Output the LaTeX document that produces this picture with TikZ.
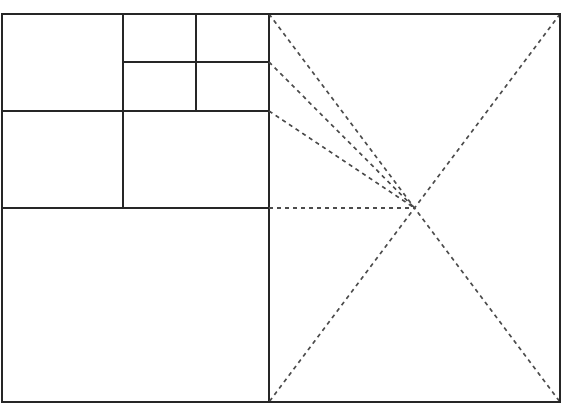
\documentclass[tikz,border=0pt]{standalone}
\begin{document}
\begin{tikzpicture}[x=1pt,y=-1pt,
  solidline/.style={line width=1.3pt,draw=black!85},
  dashline/.style={line width=1.6pt,draw=black!70,dash pattern=on 4pt off 4pt}]
\useasboundingbox (0,0) rectangle (564,404);
% named points
\coordinate (TL) at (2,14);
\coordinate (BR) at (560,402);
\coordinate (MT) at (269,14);
\coordinate (MB) at (269,402);
\coordinate (RT) at (560,14);
\coordinate (C) at (414.5,208);
\coordinate (M1) at (269,62);
\coordinate (M2) at (269,111);
\coordinate (M3) at (269,208);
% left subdivisions
\draw[solidline] (2,208) -- (269,208);
\draw[solidline] (2,111) -- (269,111);
\draw[solidline] (123,14) -- (123,208);
\draw[solidline] (123,62) -- (269,62);
\draw[solidline] (196,14) -- (196,111);
\draw[solidline] (MT) -- (MB);
% dashed
\draw[dashline] (MT) -- (BR);
\draw[dashline] (RT) -- (MB);
\draw[dashline] (M1) -- (C);
\draw[dashline] (M2) -- (C);
\draw[dashline] (M3) -- (C);
% outer frame
\draw[solidline] (TL) rectangle (BR);
\end{tikzpicture}
\end{document}
